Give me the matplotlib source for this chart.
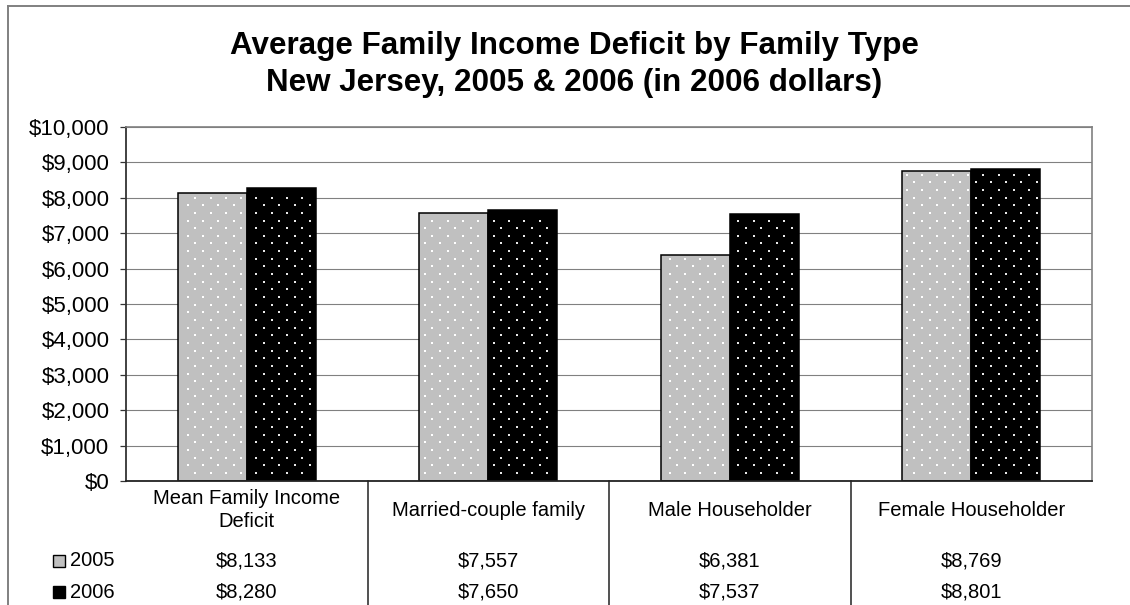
import matplotlib
matplotlib.use("Agg")
import matplotlib.pyplot as plt
import numpy as np
from matplotlib.patches import Rectangle
from matplotlib.lines import Line2D
from matplotlib.ticker import FuncFormatter, MultipleLocator
import matplotlib.transforms as mtransforms

plt.rcParams['font.family'] = ['Liberation Sans', 'DejaVu Sans']

# ---- data ----
categories = ["Mean Family Income\nDeficit", "Married-couple family",
              "Male Householder", "Female Householder"]
series_names = ["2005", "2006"]
values_2005 = [8133, 7557, 6381, 8769]
values_2006 = [8280, 7650, 7537, 8801]
title_lines = ["Average Family Income Deficit by Family Type",
               "New Jersey, 2005 & 2006 (in 2006 dollars)"]

W, H = 1130, 605
DPI = 100
fig = plt.figure(figsize=(W / DPI, H / DPI), dpi=DPI)
fig.patch.set_facecolor("white")

def fx(px):
    return px / W

def fy(py):
    return 1 - py / H

# plot area in pixel terms
L, R, T, B = 126, 1092, 127, 481
ax = fig.add_axes([fx(L), fy(B), fx(R - L), (B - T) / H])
ax.set_xlim(-0.5, len(categories) - 0.5)
ax.set_ylim(0, 10000)

fills = ["#c0c0c0", "#000000"]
dot_colors = ["#ffffff", "#e8e8e8"]
w = 1 / 3.5
x = np.arange(len(categories))
all_series = [values_2005, values_2006]

ax.yaxis.set_major_locator(MultipleLocator(1000))
ax.yaxis.set_major_formatter(FuncFormatter(lambda v, p: f"${v:,.0f}"))
ax.grid(axis="y", color="#808080", linewidth=0.8)
ax.set_axisbelow(True)
ax.set_xticks([])
ax.tick_params(axis="y", direction="out", length=4.5, width=0.9,
               color="#333333", labelsize=16, pad=7.5)
for s in ("top", "right"):
    ax.spines[s].set_color("#808080")
    ax.spines[s].set_linewidth(1.2)
ax.spines["left"].set_color("#333333")
ax.spines["left"].set_linewidth(1.3)
ax.spines["bottom"].set_color("#222222")
ax.spines["bottom"].set_linewidth(1.3)

bar_groups = []
for i, vals in enumerate(all_series):
    offs = (i - 0.5) * w
    bars = ax.bar(x + offs, vals, width=w, color=fills[i],
                  edgecolor="black", linewidth=1.1, zorder=2)
    bar_groups.append(bars)

# dotted fill texture laid over each bar
fig.canvas.draw()
inv = ax.transData.inverted()
dx, dy = 15.3, 7.65
for i, bars in enumerate(bar_groups):
    for rect in bars:
        bb = rect.get_window_extent()
        pts = []
        j0 = int(np.floor(bb.y0 / dy))
        j1 = int(np.ceil(bb.y1 / dy))
        for j in range(j0, j1 + 1):
            yy = j * dy + 2
            shift = (j % 2) * dx / 2
            k0 = int(np.floor((bb.x0 - shift) / dx))
            k1 = int(np.ceil((bb.x1 - shift) / dx))
            for k in range(k0, k1 + 1):
                xx = k * dx + shift + 4
                if bb.x0 + 3 < xx < bb.x1 - 3 and bb.y0 + 3 < yy < bb.y1 - 3:
                    pts.append((xx, yy))
        if pts:
            d = inv.transform(np.array(pts))
            sc = ax.scatter(d[:, 0], d[:, 1], s=1.6, marker="s",
                            color=dot_colors[i], linewidths=0, zorder=3)
            sc.set_clip_path(rect)

# title
for ln, ty in zip(title_lines, [46, 83]):
    fig.text(fx(574), fy(ty), ln, ha="center", va="center",
             fontsize=22.6, fontweight="bold")

# data table below the plot area
blend = mtransforms.blended_transform_factory(ax.transData, fig.transFigure)
for b in np.arange(0.5, len(categories) - 0.5, 1.0):
    ax.add_artist(Line2D([b, b], [fy(B), 0], transform=blend,
                         color="#222222", linewidth=1.1, clip_on=False))
for xi, cat in zip(x, categories):
    ax.text(xi, fy(510), cat, transform=blend, ha="center", va="center",
            fontsize=14.5, linespacing=1.3)
row_y = [561, 592]
for i, (name, vals) in enumerate(zip(series_names, all_series)):
    for xi, v in zip(x, vals):
        ax.text(xi, fy(row_y[i]), f"${v:,}", transform=blend,
                ha="center", va="center", fontsize=14.5)
    fig.add_artist(Rectangle((fx(53), fy(row_y[i] + 6)), fx(12), 12 / H,
                             transform=fig.transFigure, facecolor=fills[i],
                             edgecolor="black", linewidth=1.0))
    fig.text(fx(70), fy(row_y[i]), name, ha="left", va="center",
             fontsize=14.5)

# outer chart border
fig.add_artist(Line2D([fx(8), fx(8)], [0, fy(6)], transform=fig.transFigure,
                      color="#808080", linewidth=1.4))
fig.add_artist(Line2D([fx(8), 1], [fy(6), fy(6)], transform=fig.transFigure,
                      color="#808080", linewidth=1.4))

fig.savefig("out.png", dpi=DPI)
